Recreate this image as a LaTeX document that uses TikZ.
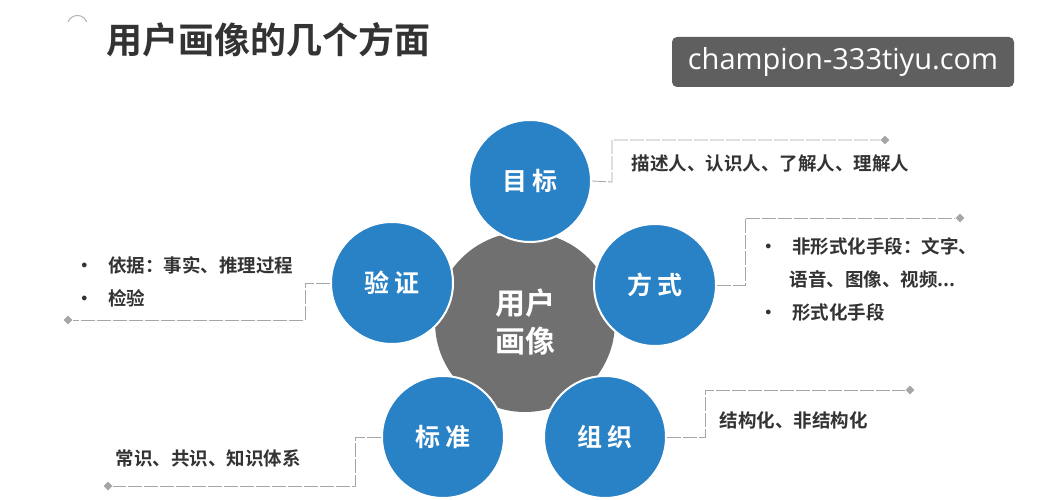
\documentclass[tikz,border=0pt]{standalone}
\usepackage{fontspec}
\newfontfamily\cjk{Noto Sans CJK SC}
\newfontfamily\cjkb{Noto Sans CJK SC Bold}
\usetikzlibrary{shapes.geometric}
\definecolor{blu}{HTML}{2A82C6}
\definecolor{gry}{HTML}{707070}
\definecolor{txt}{HTML}{333333}
\tikzset{
  blue/.style={circle,fill=blu,draw=white,line width=2pt,minimum size=122pt,text=white,font=\cjkb\fontsize{25}{25}\selectfont},
  lead/.style={draw=gray!70,line width=0.8pt,dash pattern=on 14pt off 2pt},
  dia/.style={diamond,fill=gray!70,inner sep=0pt,minimum size=9pt},
  lbl/.style={anchor=west,text=txt,font=\cjkb\fontsize{18.5}{33}\selectfont,align=left}
}
\begin{document}
\begin{tikzpicture}[x=1pt,y=-1pt]
\useasboundingbox[fill=white] (0,0) rectangle (1049,500);
\draw[gray!60,line width=1pt] (68,22) arc[start angle=200,end angle=340,radius=10];
\node[anchor=west,text=txt,font=\cjkb\fontsize{36}{36}\selectfont] (title) at (103,40) {用户画像的几个方面};
\node[fill=gry,circle,minimum size=180pt,text=white,font=\cjkb\fontsize{30}{38}\selectfont,align=center] (c) at (525,322) {用户\\画像};
\node[blue] (a) at (530,181) {目 标};
\node[blue] (b) at (655,285) {方 式};
\node[blue] (d) at (605,437) {组 织};
\node[blue] (e) at (443,437) {标 准};
\node[blue] (f) at (392,283) {验 证};
\node[dia] (da) at (885,140) {};
\node[dia] (db) at (960,218) {};
\node[dia] (dd) at (910,390) {};
\node[dia] (de) at (108,486) {};
\node[dia] (df) at (68,320) {};
\draw[lead] (a.east) -- (612,182) -- (612,140) -- (da);
\draw[lead] (b.east) -- (745,285) -- (745,218) -- (db);
\draw[lead] (d.east) -- (705,437) -- (705,390) -- (dd);
\draw[lead] (e.west) -- (355,437) -- (355,486) -- (de);
\draw[lead] (f.west) -- (305,283) -- (305,320) -- (df);
\node[lbl] (ta) at (628,163) {描述人、认识人、了解人、理解人};
\node[lbl,anchor=north west] (tb) at (756,234) {•\hspace{14pt}非形式化手段：文字、\\\hspace{30pt}语音、图像、视频...\\•\hspace{14pt}形式化手段};
\node[lbl] (td) at (716,420) {结构化、非结构化};
\node[lbl] (te) at (112,458) {常识、共识、知识体系};
\node[lbl,anchor=north west] (tf) at (72,253) {•\hspace{14pt}依据：事实、推理过程\\•\hspace{14pt}检验};
\node[fill=gry!85!black,rounded corners=5pt,minimum width=342pt,minimum height=50pt,text=white,font=\fontspec{Open Sans}\fontsize{29}{29}\selectfont] (wm) at (843,62) {champion-333tiyu.com};
\end{tikzpicture}
\end{document}
